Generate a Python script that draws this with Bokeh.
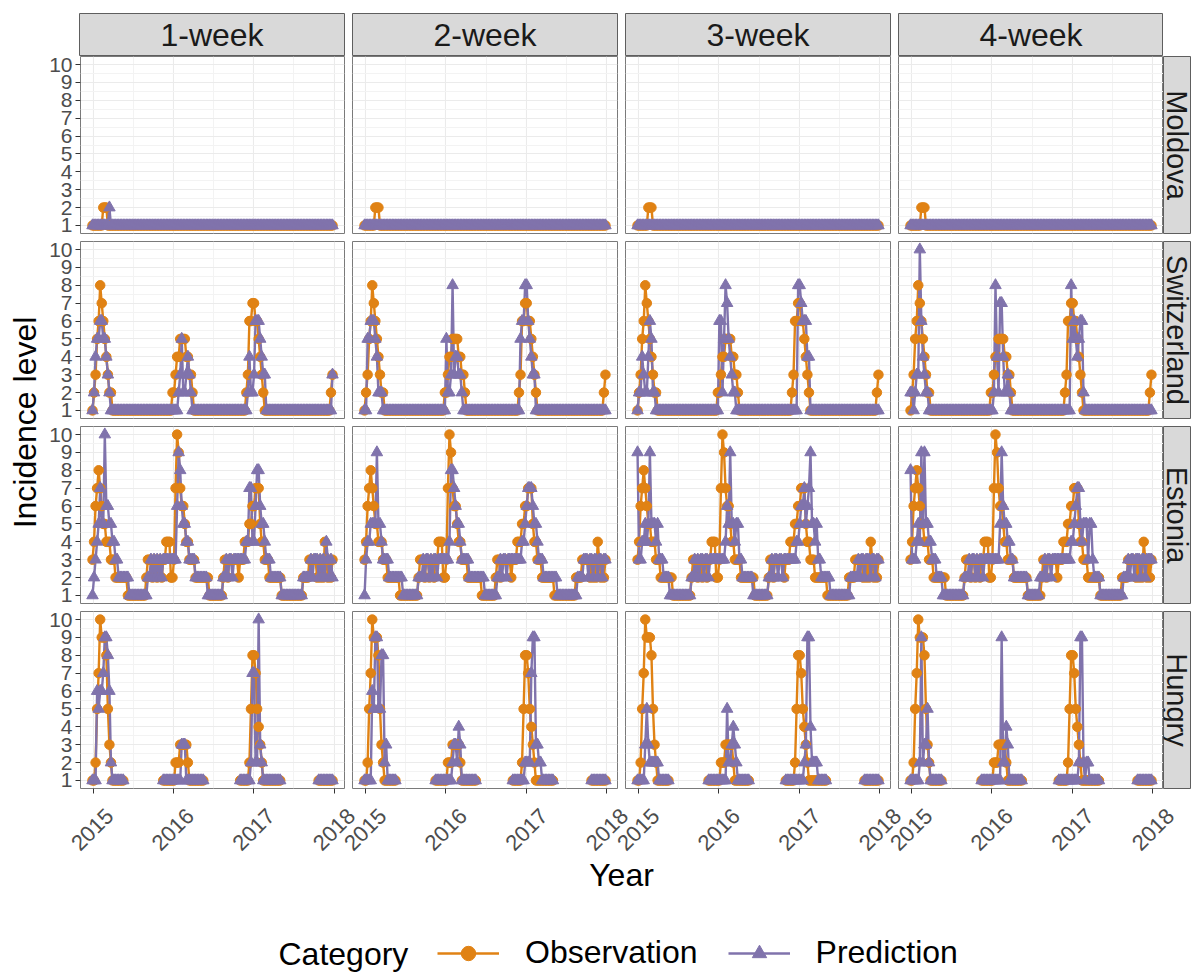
import numpy as np
import pandas as pd
from bokeh.plotting import figure
from bokeh.layouts import row, column
from bokeh.models import Range1d, FixedTicker, Legend, LegendItem, Spacer
from bokeh.core.properties import value
from bokeh.embed import file_html
from bokeh.resources import INLINE

N = None

# ---------------- data ----------------
countries = ["Moldova", "Switzerland", "Estonia", "Hungry"]
horizons = ["1-week", "2-week", "3-week", "4-week"]
year_labels = ["2015", "2016", "2017", "2018"]
level_ticks = [1, 2, 3, 4, 5, 6, 7, 8, 9, 10]
level_minor = [1.5, 2.5, 3.5, 4.5, 5.5, 6.5, 7.5, 8.5, 9.5]
first_week, last_week = "2014-12-29", "2017-12-25"

moldova_obs = [
    1,1,1,1,1,1,1,2,2,2, 1,1,1,1,1,1,1,1,1,1, 1,1,1,1,1,1,1,1,1,1, 1,1,1,1,1,1,1,1,1,1,
    1,1,1,1,1,1,1,1,1,1, 1,1,1,1,1,1,1,1,1,1, 1,1,1,1,1,1,1,1,1,1, 1,1,1,1,1,1,1,1,1,1,
    1,1,1,1,1,1,1,1,1,1, 1,1,1,1,1,1,1,1,1,1, 1,1,1,1,1,1,1,1,1,1, 1,1,1,1,1,1,1,1,1,1,
    1,1,1,1,1,1,1,1,1,1, 1,1,1,1,1,1,1,1,1,1, 1,1,1,1,1,1,1,1,1,1, 1,1,1,1,1,1,1]
moldova_pred_1w = [
    1,1,1,1,1,1,1,1,1,1, 1,2,1,1,1,1,1,1,1,1, 1,1,1,1,1,1,1,1,1,1, 1,1,1,1,1,1,1,1,1,1,
    1,1,1,1,1,1,1,1,1,1, 1,1,1,1,1,1,1,1,1,1, 1,1,1,1,1,1,1,1,1,1, 1,1,1,1,1,1,1,1,1,1,
    1,1,1,1,1,1,1,1,1,1, 1,1,1,1,1,1,1,1,1,1, 1,1,1,1,1,1,1,1,1,1, 1,1,1,1,1,1,1,1,1,1,
    1,1,1,1,1,1,1,1,1,1, 1,1,1,1,1,1,1,1,1,1, 1,1,1,1,1,1,1,1,1,1, 1,1,1,1,1,1,1]
moldova_pred_2w = [
    1,1,1,1,1,1,1,1,1,1, 1,1,1,1,1,1,1,1,1,1, 1,1,1,1,1,1,1,1,1,1, 1,1,1,1,1,1,1,1,1,1,
    1,1,1,1,1,1,1,1,1,1, 1,1,1,1,1,1,1,1,1,1, 1,1,1,1,1,1,1,1,1,1, 1,1,1,1,1,1,1,1,1,1,
    1,1,1,1,1,1,1,1,1,1, 1,1,1,1,1,1,1,1,1,1, 1,1,1,1,1,1,1,1,1,1, 1,1,1,1,1,1,1,1,1,1,
    1,1,1,1,1,1,1,1,1,1, 1,1,1,1,1,1,1,1,1,1, 1,1,1,1,1,1,1,1,1,1, 1,1,1,1,1,1,1]
moldova_pred_3w = list(moldova_pred_2w)
moldova_pred_4w = list(moldova_pred_2w)

switzerland_obs = [
    1,2,3,5,6,8,7,6,5,4, 3,2,2,1,1,1,1,1,1,1, 1,1,1,1,1,1,1,1,1,1, 1,1,1,1,1,1,1,1,1,1,
    1,1,1,1,1,1,1,1,1,1, 1,1,2,2,3,4,4,5,5,5, 5,4,4,3,3,2,1,1,1,1, 1,1,1,1,1,1,1,1,1,1,
    1,1,1,1,1,1,1,1,1,1, 1,1,1,1,1,1,1,1,1,1, 2,3,6,6,7,7,6,6,5,4, 3,2,1,1,1,1,1,1,1,1,
    1,1,1,1,1,1,1,1,1,1, 1,1,1,1,1,1,1,1,1,1, 1,1,1,1,1,1,1,1,1,1, 1,1,1,1,1,2,3]
switzerland_pred_1w = [
    1,2,4,5,5,6,6,5,5,4, 3,2,1,1,1,1,1,1,1,1, 1,1,1,1,1,1,1,1,1,1, 1,1,1,1,1,1,1,1,1,1,
    1,1,1,1,1,1,1,1,1,1, 1,1,1,1,1,1,2,3,5,2, 2,3,4,3,2,1,1,1,1,1, 1,1,1,1,1,1,1,1,1,1,
    1,1,1,1,1,1,1,1,1,1, 1,1,1,1,1,1,1,1,1,1, 1,2,4,2,2,3,6,6,6,5, 4,3,3,1,1,1,1,1,1,1,
    1,1,1,1,1,1,1,1,1,1, 1,1,1,1,1,1,1,1,1,1, 1,1,1,1,1,1,1,1,1,1, 1,1,1,1,1,1,3]
switzerland_pred_2w = [
    1,1,5,5,6,6,6,5,4,2, 2,2,1,1,1,1,1,1,1,1, 1,1,1,1,1,1,1,1,1,1, 1,1,1,1,1,1,1,1,1,1,
    1,1,1,1,1,1,1,1,1,1, 1,1,1,5,2,2,3,8,3,4, 4,3,3,2,1,1,1,1,1,1, 1,1,1,1,1,1,1,1,1,1,
    1,1,1,1,1,1,1,1,1,1, 1,1,1,1,1,1,1,1,1,1, 1,5,6,6,8,8,6,5,4,3, 3,1,1,1,1,1,1,1,1,1,
    1,1,1,1,1,1,1,1,1,1, 1,1,1,1,1,1,1,1,1,1, 1,1,1,1,1,1,1,1,1,1, 1,1,1,1,1,1,1]
switzerland_pred_3w = [
    1,2,2,4,3,2,2,4,6,5, 2,2,1,1,1,1,1,1,1,1, 1,1,1,1,1,1,1,1,1,1, 1,1,1,1,1,1,1,1,1,1,
    1,1,1,1,1,1,1,1,1,1, 1,1,1,6,6,2,5,8,7,5, 4,3,2,2,1,1,1,1,1,1, 1,1,1,1,1,1,1,1,1,1,
    1,1,1,1,1,1,1,1,1,1, 1,1,1,1,1,1,1,1,1,1, 1,1,1,1,8,8,7,6,6,6, 4,4,1,1,1,1,1,1,1,1,
    1,1,1,1,1,1,1,1,1,1, 1,1,1,1,1,1,1,1,1,1, 1,1,1,1,1,1,1,1,1,1, 1,1,1,1,1,1,1]
switzerland_pred_4w = [
    2,2,1,2,3,3,10,6,4,3, 2,2,1,1,1,1,1,1,1,1, 1,1,1,1,1,1,1,1,1,1, 1,1,1,1,1,1,1,1,1,1,
    1,1,1,1,1,1,1,1,1,1, 1,1,1,1,2,8,4,2,7,7, 4,2,2,3,2,1,1,1,1,1, 1,1,1,1,1,1,1,1,1,1,
    1,1,1,1,1,1,1,1,1,1, 1,1,1,1,1,1,1,1,1,1, 1,1,1,1,8,5,6,5,4,5, 6,6,2,1,1,1,1,1,1,1,
    1,1,1,1,1,1,1,1,1,1, 1,1,1,1,1,1,1,1,1,1, 1,1,1,1,1,1,1,1,1,1, 1,1,1,1,1,1,1]

estonia_obs = [
    3,4,6,7,8,7,6,5,5,4, 4,4,3,3,3,2,2,2,2,2, 2,2,2,1,1,1,1,1,1,1, 1,1,1,1,1,2,3,3,3,2,
    3,3,2,3,3,2,3,3,4,4, 4,2,2,3,7,10,9,7,6,6, 5,4,4,3,3,3,3,2,2,2, 2,2,2,2,2,2,1,1,1,1,
    1,1,1,1,1,2,3,3,2,3, 3,3,3,3,3,2,3,3,3,4, 4,4,5,5,6,6,7,7,7,5, 4,4,3,3,3,2,2,2,2,2,
    2,2,2,1,1,1,1,1,1,1, 1,1,1,1,1,1,1,2,2,2, 2,3,3,3,3,3,2,3,2,3, 2,4,3,2,3,2,3]
estonia_pred_1w = [
    1,2,3,4,5,7,5,5,10,6, 6,5,5,4,4,3,3,2,2,2, 2,2,2,2,1,1,1,1,1,1, 1,1,1,1,1,1,2,2,3,2,
    3,2,3,2,3,2,3,3,3,3, 3,3,3,3,3,6,9,8,6,5, 5,4,4,3,3,3,3,2,2,2, 2,2,2,2,2,1,1,1,1,1,
    1,1,1,1,1,2,2,3,2,3, 3,2,3,3,3,3,3,3,3,3, 4,4,7,7,4,4,6,8,8,6, 5,5,4,3,3,3,2,2,2,2,
    2,2,2,1,1,1,1,1,1,1, 1,1,1,1,1,1,1,2,2,2, 2,2,3,2,3,3,3,2,3,2, 3,2,4,3,2,3,2]
estonia_pred_2w = [
    1,3,4,4,5,5,5,5,9,5, 5,4,3,3,3,3,2,2,2,2, 2,2,2,2,2,1,1,1,1,1, 1,1,1,1,1,2,2,2,3,2,
    3,3,2,3,2,3,3,2,3,3, 3,3,3,3,3,4,8,8,7,6, 5,5,4,3,3,3,3,3,2,2, 2,2,2,2,2,2,2,2,1,1,
    1,1,1,1,1,1,2,2,3,2, 3,3,2,3,3,3,3,3,3,3, 3,3,4,4,5,6,7,7,7,6, 5,5,4,3,3,3,2,2,2,2,
    2,2,2,2,2,1,1,1,1,1, 1,1,1,1,1,1,1,1,2,2, 2,2,3,3,3,2,3,3,2,3, 3,2,3,3,2,3,3]
estonia_pred_3w = [
    9,3,3,4,4,5,4,5,9,5, 5,5,4,5,3,3,3,2,2,2, 2,1,1,1,1,1,1,1,1,1, 1,1,1,1,1,2,2,3,2,3,
    2,3,3,2,3,3,2,3,3,3, 3,3,3,3,3,3,3,4,6,5, 9,5,5,4,5,5,3,3,2,2, 2,2,2,2,2,1,1,1,1,1,
    1,1,1,1,1,2,2,3,2,3, 3,2,3,3,2,3,3,3,3,3, 3,3,3,4,4,5,6,6,7,5, 6,7,9,5,5,4,5,3,3,2,
    2,2,2,2,2,1,1,1,1,1, 1,1,1,1,1,1,1,1,2,2, 2,2,2,3,2,3,3,2,3,3, 3,2,3,3,2,3,3]
estonia_pred_4w = [
    8,3,3,3,4,5,4,9,5,9, 5,5,4,4,3,3,3,2,2,2, 2,1,1,1,1,1,1,1,1,1, 1,1,1,1,1,2,2,2,3,2,
    3,3,2,3,2,3,3,2,3,3, 3,3,3,3,3,3,3,3,5,9, 6,5,5,4,4,3,3,2,2,2, 2,2,2,2,2,2,1,1,1,1,
    1,1,1,1,2,2,2,3,2,3, 3,2,3,3,3,3,3,3,3,3, 3,3,3,3,4,4,5,6,7,7, 5,4,5,5,5,3,5,5,3,2,
    2,2,2,1,1,1,1,1,1,1, 1,1,1,1,1,1,1,1,2,2, 2,3,2,3,3,2,3,3,3,2, 3,3,2,3,3,3,3]

hungry_obs = [
    1,1,2,5,7,10,9,9,9,8, 5,3,2,1,1,1,1,1,1,1, 1,N,N,N,N,N,N,N,N,N, N,N,N,N,N,N,N,N,N,N,
    N,N,N,N,N,N,1,1,1,1, 1,1,1,1,2,2,2,3,3,3, 3,3,2,1,1,1,1,1,1,1, 1,1,1,N,N,N,N,N,N,N,
    N,N,N,N,N,N,N,N,N,N, N,N,N,N,N,N,1,1,1,1, 1,1,2,5,8,8,7,5,4,3, 2,1,1,1,1,1,1,1,1,1,
    1,1,1,N,N,N,N,N,N,N, N,N,N,N,N,N,N,N,N,N, N,N,N,N,N,N,N,1,1,1, 1,1,1,1,1,1,1]
hungry_pred_1w = [
    1,1,1,6,5,6,6,7,9,9, 8,6,2,1,1,1,1,1,1,1, 1,N,N,N,N,N,N,N,N,N, N,N,N,N,N,N,N,N,N,N,
    N,N,N,N,N,N,1,1,1,1, 1,1,1,1,1,1,1,1,3,3, 3,1,1,1,1,1,1,1,1,1, 1,1,1,N,N,N,N,N,N,N,
    N,N,N,N,N,N,N,N,N,N, N,N,N,N,N,N,1,1,1,1, 1,1,1,2,7,7,2,2,10,3, 2,1,1,1,1,1,1,1,1,1,
    1,1,1,N,N,N,N,N,N,N, N,N,N,N,N,N,N,N,N,N, N,N,N,N,N,N,N,1,1,1, 1,1,1,1,1,1,1]
hungry_pred_2w = [
    1,1,1,1,1,6,5,9,9,5, 5,8,8,2,3,1,1,1,1,1, 1,N,N,N,N,N,N,N,N,N, N,N,N,N,N,N,N,N,N,N,
    N,N,N,N,N,N,1,1,1,1, 1,1,1,1,1,1,1,2,3,3, 2,4,3,1,1,1,1,1,1,1, 1,1,1,N,N,N,N,N,N,N,
    N,N,N,N,N,N,N,N,N,N, N,N,N,N,N,N,1,1,1,1, 1,1,1,1,2,2,2,2,7,9, 9,3,3,2,2,1,1,1,1,1,
    1,1,1,N,N,N,N,N,N,N, N,N,N,N,N,N,N,N,N,N, N,N,N,N,N,N,N,1,1,1, 1,1,1,1,1,1,1]
hungry_pred_3w = [
    1,1,1,1,1,3,5,3,2,2, 2,2,2,2,1,1,1,1,1,1, 1,N,N,N,N,N,N,N,N,N, N,N,N,N,N,N,N,N,N,N,
    N,N,N,N,N,N,1,1,1,1, 1,1,1,1,1,1,1,1,5,2, 2,3,4,3,2,1,1,1,1,1, 1,1,1,N,N,N,N,N,N,N,
    N,N,N,N,N,N,N,N,N,N, N,N,N,N,N,N,1,1,1,1, 1,1,1,1,1,1,1,1,2,3, 9,9,4,2,2,2,2,1,1,1,
    1,1,1,N,N,N,N,N,N,N, N,N,N,N,N,N,N,N,N,N, N,N,N,N,N,N,N,1,1,1, 1,1,1,1,1,1,1]
hungry_pred_4w = [
    1,1,1,1,1,1,2,9,2,3, 3,5,2,1,1,1,1,1,1,1, 1,N,N,N,N,N,N,N,N,N, N,N,N,N,N,N,N,N,N,N,
    N,N,N,N,N,N,1,1,1,1, 1,1,1,1,1,1,1,1,1,9, 2,2,4,3,1,1,1,1,1,1, 1,1,1,N,N,N,N,N,N,N,
    N,N,N,N,N,N,N,N,N,N, N,N,N,N,N,N,1,1,1,1, 1,1,1,1,1,1,1,1,1,2, 9,9,2,1,2,2,1,1,1,1,
    1,1,1,N,N,N,N,N,N,N, N,N,N,N,N,N,N,N,N,N, N,N,N,N,N,N,N,1,1,1, 1,1,1,1,1,1,1]

observations = {"Moldova": moldova_obs, "Switzerland": switzerland_obs,
                "Estonia": estonia_obs, "Hungry": hungry_obs}
predictions = {
    "Moldova": [moldova_pred_1w, moldova_pred_2w, moldova_pred_3w, moldova_pred_4w],
    "Switzerland": [switzerland_pred_1w, switzerland_pred_2w, switzerland_pred_3w, switzerland_pred_4w],
    "Estonia": [estonia_pred_1w, estonia_pred_2w, estonia_pred_3w, estonia_pred_4w],
    "Hungry": [hungry_pred_1w, hungry_pred_2w, hungry_pred_3w, hungry_pred_4w],
}

# ---------------- styling constants ----------------
ORANGE = "#E08214"
PURPLE = "#8073AC"
FONT = "Liberation Sans"
TITLE_W = 46      # left column holding the y title
YAX_W = 33        # room for the y tick labels
PW, PH = 265, 177  # panel frame size
GAP = 8
HALF = GAP // 2
STRIP_H = 43
TOP_PAD = 13
RSTRIP_W = 27
BOTTOM_AX = 15
BOTTOM_H = 170
LW = 2.4

weeks = pd.date_range(first_week, last_week, freq="7D")
x_ms = weeks.values.astype("datetime64[ms]").astype("int64").astype(float)
for name in countries:
    assert len(observations[name]) == len(x_ms), name
    for s in predictions[name]:
        assert len(s) == len(x_ms), name

year_ms = [pd.Timestamp(y + "-01-01").value / 1e6 for y in year_labels]
year_mid = [(a + b) / 2 for a, b in zip(year_ms[:-1], year_ms[1:])]

span = x_ms.max() - x_ms.min()
xr = Range1d(x_ms.min() - 0.05 * span, x_ms.max() + 0.05 * span)
all_vals = [v for n in countries for s in [observations[n]] + predictions[n] for v in s if v is not None]
vmin, vmax = min(all_vals), max(all_vals)
yr = Range1d(vmin - 0.05 * (vmax - vmin), vmax + 0.05 * (vmax - vmin))


def bare(width, height, left, right, top, bottom, xrange, yrange, xloc=None, yloc=None):
    f = figure(width=width, height=height, x_range=xrange, y_range=yrange,
               x_axis_location=xloc, y_axis_location=yloc, title=None,
               toolbar_location=None, output_backend="svg",
               min_border_left=left, min_border_right=right,
               min_border_top=top, min_border_bottom=bottom)
    f.border_fill_color = "white"
    return f


def row_borders(r):
    top = HALF if r > 0 else 0
    bottom = BOTTOM_AX if r == 3 else HALF
    return top, bottom


def make_panel(r, c, obs, pred):
    left = YAX_W if c == 0 else 0
    right = GAP if c < 3 else 0
    top, bottom = row_borders(r)
    p = bare(left + PW + right, top + PH + bottom, left, right, top, bottom, xr, yr,
             xloc="below" if r == 3 else None, yloc="left" if c == 0 else None)
    p.background_fill_color = "white"
    p.outline_line_color = "#7A7A7A"
    p.outline_line_width = 1
    p.xgrid.ticker = FixedTicker(ticks=year_ms, minor_ticks=year_mid)
    p.ygrid.ticker = FixedTicker(ticks=level_ticks, minor_ticks=level_minor)
    for g in p.grid:
        g.grid_line_color = "#EBEBEB"
        g.grid_line_width = 1.1
        g.minor_grid_line_color = "#F3F3F3"
        g.minor_grid_line_width = 1
    if c == 0:
        ax = p.yaxis[0]
        ax.ticker = FixedTicker(ticks=level_ticks)
        ax.major_label_text_font = FONT
        ax.major_label_text_font_size = "21px"
        ax.major_label_text_color = "#4D4D4D"
        ax.major_tick_out = 5
        ax.major_tick_in = 0
        ax.major_tick_line_color = "#333333"
        ax.minor_tick_line_color = None
        ax.axis_line_color = None
        ax.major_label_standoff = 3
    if r == 3:
        ax = p.xaxis[0]
        ax.ticker = FixedTicker(ticks=year_ms)
        ax.major_label_overrides = {t: "" for t in year_ms}
        ax.major_label_standoff = 0
        ax.major_tick_out = 5
        ax.major_tick_in = 0
        ax.major_tick_line_color = "#333333"
        ax.minor_tick_line_color = None
        ax.axis_line_color = None
    obs_arr = np.array(obs, dtype=float)
    pred_arr = np.array(pred, dtype=float)
    p.line(x_ms, obs_arr, line_color=ORANGE, line_width=LW)
    p.line(x_ms, pred_arr, line_color=PURPLE, line_width=LW)
    p.scatter(x_ms, obs_arr, marker="circle", size=9.5, fill_color=ORANGE, line_color=ORANGE)
    p.scatter(x_ms, pred_arr, marker="triangle", size=11.5, fill_color=PURPLE, line_color=PURPLE)
    return p


def make_strip(label, width, height, left, right, top, bottom, angle, size):
    s = bare(width, height, left, right, top, bottom, Range1d(0, 1), Range1d(0, 1))
    s.grid.visible = False
    s.background_fill_color = "#D9D9D9"
    s.outline_line_color = "#5E5E5E"
    s.outline_line_width = 1
    s.text(x=[0.5], y=[0.5], text=[label], angle=angle, text_align="center",
           text_baseline="middle", text_font=value(FONT), text_font_size=size,
           text_color="#1A1A1A")
    return s


# top strips
top_children = []
for c, h in enumerate(horizons):
    left = YAX_W if c == 0 else 0
    right = GAP if c < 3 else 0
    top_children.append(make_strip(h, left + PW + right, TOP_PAD + STRIP_H, left, right,
                                   TOP_PAD, 0, 0, "32px"))
top_children.append(Spacer(width=RSTRIP_W + 3, height=TOP_PAD + STRIP_H))
rows = [row(*top_children)]

for r, name in enumerate(countries):
    children = []
    for c in range(4):
        children.append(make_panel(r, c, observations[name], predictions[name][c]))
    top, bottom = row_borders(r)
    children.append(make_strip(name, RSTRIP_W + 3, top + PH + bottom, 0, 3, top, bottom,
                               -np.pi / 2, "29px"))
    rows.append(row(*children))
grid_col = column(*rows)

grid_h = TOP_PAD + STRIP_H + 3 * (PH + GAP) + PH + BOTTOM_AX
panel_mid_from_top = TOP_PAD + STRIP_H + (4 * PH + 3 * GAP) / 2

# y title
yt = bare(TITLE_W, grid_h, 0, 0, 0, 0, Range1d(0, TITLE_W), Range1d(0, grid_h))
yt.grid.visible = False
yt.outline_line_color = None
yt.text(x=[24], y=[grid_h - panel_mid_from_top], text=["Incidence level"], angle=np.pi / 2,
        text_align="center", text_baseline="middle", text_font=value(FONT),
        text_font_size="32px", text_color="black")

# bottom: x tick labels, x title, legend
total_w = TITLE_W + YAX_W + 4 * PW + 3 * GAP + RSTRIP_W + 3
b = bare(total_w, BOTTOM_H, 0, 0, 0, 0, Range1d(0, total_w), Range1d(0, BOTTOM_H))
b.grid.visible = False
b.outline_line_color = None
for c in range(4):
    col_left = TITLE_W + YAX_W + c * (PW + GAP)
    sub = b.subplot(x_source=xr, y_source=Range1d(0, BOTTOM_H),
                    x_target=Range1d(col_left, col_left + PW), y_target=Range1d(0, BOTTOM_H))
    sub.text(x=year_ms, y=[BOTTOM_H - 26] * len(year_ms), text=year_labels, angle=np.pi / 4,
             text_align="center", text_baseline="middle", text_font=value(FONT),
             text_font_size="22px", text_color="#4D4D4D")
panel_center_x = TITLE_W + YAX_W + (4 * PW + 3 * GAP) / 2
b.text(x=[panel_center_x], y=[BOTTOM_H - 71], text=["Year"], text_align="center",
       text_baseline="middle", text_font=value(FONT), text_font_size="32px", text_color="black")
b.text(x=[278], y=[20], text=["Category"], text_align="left", text_baseline="middle",
       text_font=value(FONT), text_font_size="32px", text_color="black")

# legend proxies (a single missing value so that nothing shows in the plot area)
lo = b.line(x=[np.nan], y=[np.nan], line_color=ORANGE, line_width=LW)
so = b.scatter(x=[np.nan], y=[np.nan], marker="circle", size=9.5, fill_color=ORANGE, line_color=ORANGE)
lp = b.line(x=[np.nan], y=[np.nan], line_color=PURPLE, line_width=LW)
sp = b.scatter(x=[np.nan], y=[np.nan], marker="triangle", size=11.5, fill_color=PURPLE, line_color=PURPLE)
legend = Legend(items=[LegendItem(label="Observation", renderers=[lo, so]),
                       LegendItem(label="Prediction", renderers=[lp, sp])],
                orientation="horizontal", location=(437, 2), padding=0, margin=0,
                spacing=30, glyph_width=62, glyph_height=36, label_height=36,
                label_standoff=26, label_text_font=FONT, label_text_font_size="32px",
                label_text_color="black", background_fill_alpha=0, border_line_color=None)
b.add_layout(legend)

page = column(row(yt, grid_col), b)

with open("out.html", "w") as fh:
    fh.write(file_html(page, INLINE))
